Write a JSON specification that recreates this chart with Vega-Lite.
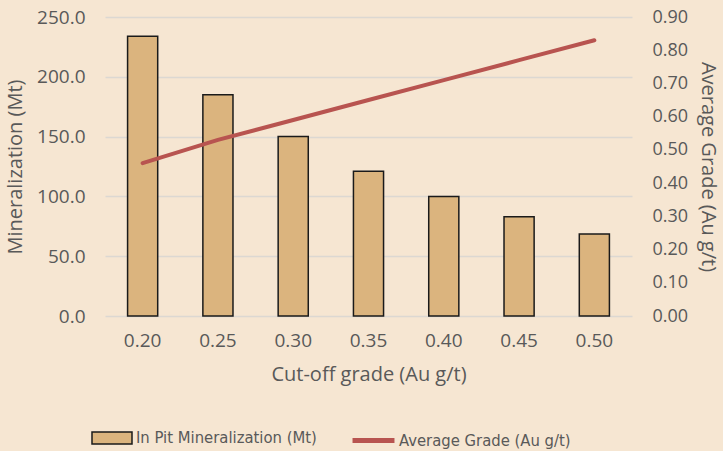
{
  "$schema": "https://vega.github.io/schema/vega-lite/v6.json",
  "width": 527,
  "height": 299,
  "autosize": {"type": "none"},
  "padding": {"left": 105, "top": 17, "right": 91, "bottom": 135},
  "background": "#F6E6D2",
  "config": {
    "view": {"stroke": null},
    "font": "Open Sans",
    "axis": {"labelColor": "#595959", "titleColor": "#595959", "labelFont": "Open Sans", "titleFont": "Open Sans", "titleFontWeight": "normal", "labelFontSize": 19, "titleFontSize": 20, "domain": false, "ticks": false}
  },
  "data": {"values": [
    {"cutoff": "0.20", "mt": 234.0, "grade": 0.46},
    {"cutoff": "0.25", "mt": 185.0, "grade": 0.53},
    {"cutoff": "0.30", "mt": 150.0, "grade": 0.59},
    {"cutoff": "0.35", "mt": 121.0, "grade": 0.65},
    {"cutoff": "0.40", "mt": 100.0, "grade": 0.71},
    {"cutoff": "0.45", "mt": 83.0, "grade": 0.77},
    {"cutoff": "0.50", "mt": 68.5, "grade": 0.83}
  ]},
  "encoding": {
    "x": {"field": "cutoff", "type": "ordinal", "title": "Cut-off grade (Au g/t)",
      "scale": {"paddingInner": 0.6, "paddingOuter": 0.3},
      "axis": {"labelAngle": 0, "labelPadding": 15, "titlePadding": 14, "grid": false}}
  },
  "layer": [
    {
      "mark": {"type": "bar", "stroke": "#1a1a1a", "strokeWidth": 1.5},
      "encoding": {
        "y": {"field": "mt", "type": "quantitative", "title": "Mineralization (Mt)",
          "scale": {"domain": [0, 250]},
          "axis": {"values": [0, 50, 100, 150, 200, 250], "format": ".1f", "labelPadding": 20, "titlePadding": 11, "grid": true, "gridColor": "#DCD8D2", "gridWidth": 1.3}},
        "fill": {"datum": "In Pit Mineralization (Mt)", "type": "nominal",
          "scale": {"range": ["#DBB47E"]},
          "legend": {"title": null, "orient": "none", "legendX": -14, "legendY": 400,
            "symbolType": "M-1,-0.3H1V0.3H-1Z", "symbolSize": 1600, "symbolStrokeColor": "#1a1a1a", "symbolStrokeWidth": 1.5, "symbolFillColor": "#DBB47E",
            "labelFont": "DejaVu Sans Condensed, Roboto, sans-serif", "labelFontSize": 16.5, "labelLimit": 0, "labelColor": "#595959", "labelOffset": 3}}
      }
    },
    {
      "mark": {"type": "line", "strokeWidth": 4, "strokeCap": "round"},
      "encoding": {
        "y": {"field": "grade", "type": "quantitative", "title": "Average Grade (Au g/t)",
          "scale": {"domain": [0, 0.9]},
          "axis": {"orient": "right", "values": [0, 0.1, 0.2, 0.3, 0.4, 0.5, 0.6, 0.7, 0.8, 0.9], "format": ".2f", "labelPadding": 20, "labelFontSize": 18, "titlePadding": 10, "grid": false}},
        "stroke": {"datum": "Average Grade (Au g/t)", "type": "nominal",
          "scale": {"range": ["#B85450"]},
          "legend": {"title": null, "orient": "none", "legendX": 245, "legendY": 400,
            "symbolType": "stroke", "symbolSize": 1760, "symbolStrokeWidth": 5, "symbolStrokeColor": "#B85450",
            "labelFont": "DejaVu Sans Condensed, Roboto, sans-serif", "labelFontSize": 16.5, "labelLimit": 0, "labelColor": "#595959", "labelOffset": 2}}
      }
    }
  ],
  "resolve": {"scale": {"y": "independent"}}
}
